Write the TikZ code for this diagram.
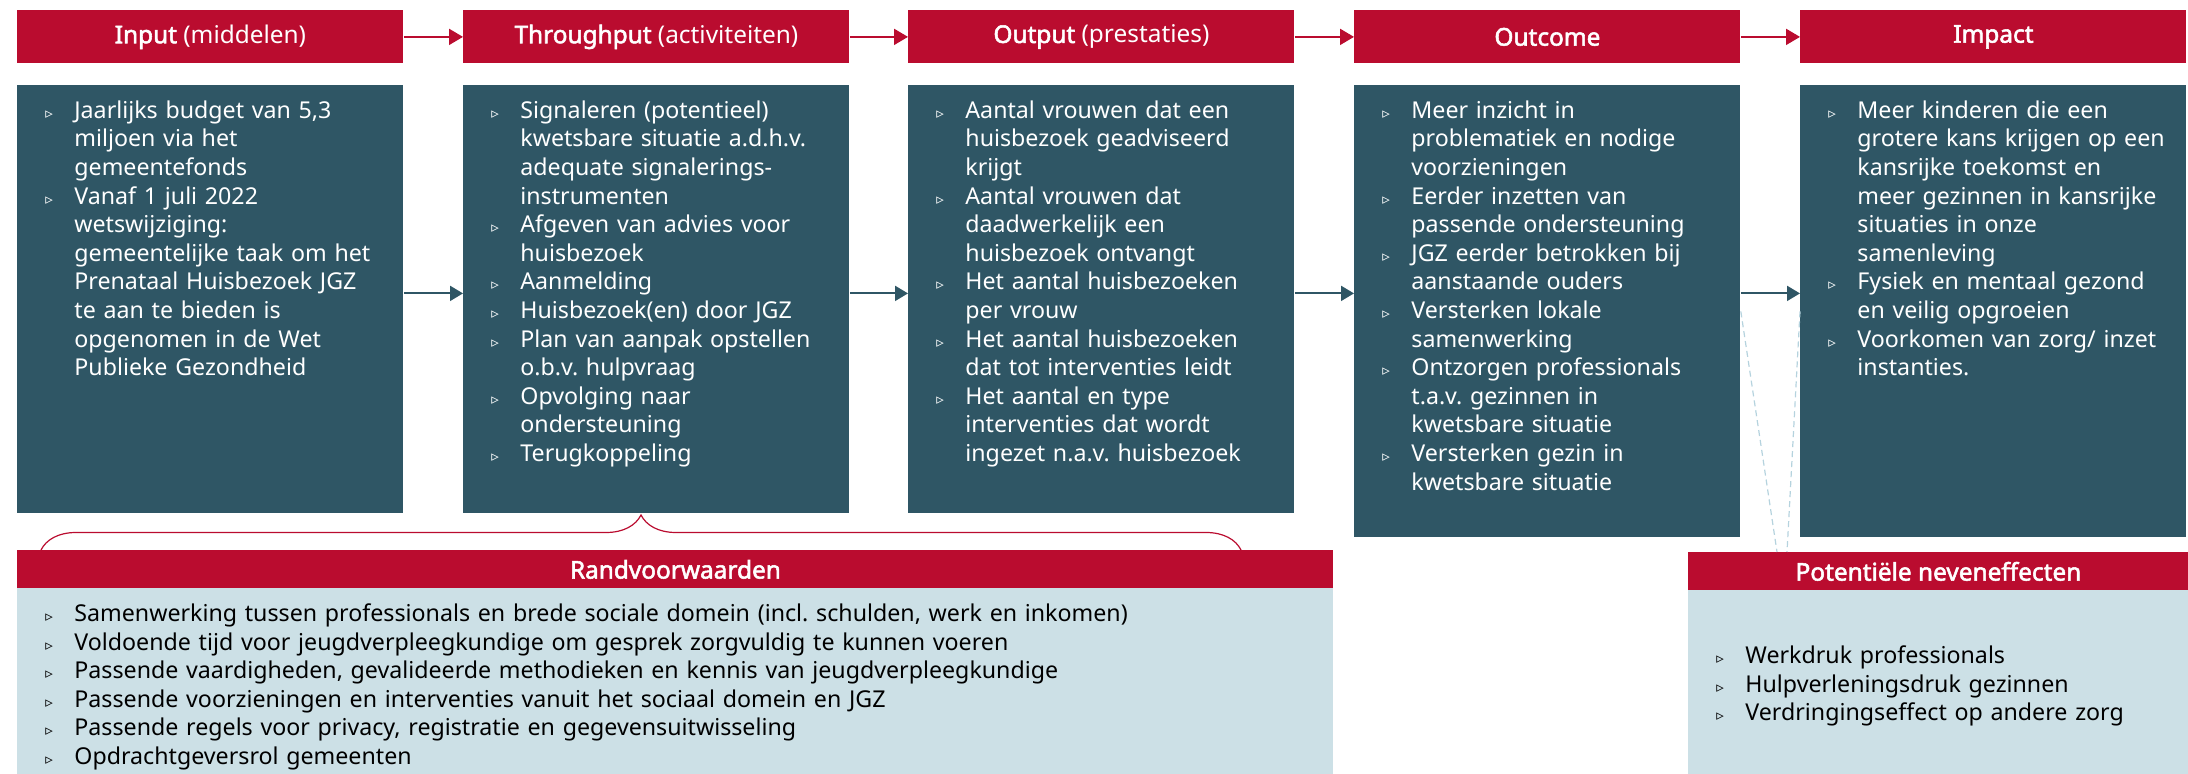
\documentclass[tikz,border=0pt]{standalone}
\usepackage{fontspec}
\setmainfont{Noto Sans}[AutoFakeBold=2.2]
\newfontfamily\symfont{DejaVu Sans}
\usetikzlibrary{arrows.meta,decorations.pathreplacing}
\frenchspacing

\definecolor{hred}{HTML}{BA0C2F}
\definecolor{dteal}{HTML}{2F5665}
\definecolor{lblue}{HTML}{CCE0E6}
\definecolor{dline}{HTML}{B5D3DE}

\newcommand{\tri}{{\symfont\fontsize{7.5}{7.5}\selectfont ▹}}
\newcommand{\itmfirst}{\noindent\hangindent=19.5pt\hangafter=1\hspace*{5pt}\makebox[14.5pt][l]{\tri}}
\newcommand{\itm}{\unskip\par\itmfirst}

\begin{document}
\begin{tikzpicture}[x=0.5pt,y=-0.5pt]

\tikzstyle{head}=[rectangle, fill=hred, anchor=north west, minimum width=193pt, minimum height=26.5pt, inner sep=0pt, text=white, font=\fontsize{12.2}{15}\selectfont]
\tikzstyle{body}=[rectangle, fill=dteal, anchor=north west, text width=175pt, inner xsep=9pt, inner ysep=7.5pt, text height=9pt, text depth=190pt, align=left, text=white, font=\fontsize{11.6}{14.3}\selectfont]
\tikzstyle{cond}=[rectangle, fill=lblue, anchor=north west, inner xsep=9pt, inner ysep=7.5pt, align=left, text=black, font=\fontsize{11.6}{14.3}\selectfont]
\tikzstyle{harrow}=[-{Triangle[length=7pt,width=8pt]}, hred, line width=1pt]
\tikzstyle{barrow}=[-{Triangle[length=6.5pt,width=7.5pt]}, dteal, line width=1pt]
\tikzstyle{guide}=[dline, line width=0.6pt, dash pattern=on 3pt off 2pt]
\tikzstyle{bracket}=[hred, line width=0.6pt, decorate, decoration={brace, amplitude=17.5pt}]

\useasboundingbox (0,0) rectangle (2188,774);

\node (A) [head] at (17,10)   {\textbf{Input} (middelen)};
\node (B) [head] at (463,10)  {\textbf{Throughput} (activiteiten)};
\node (C) [head] at (908,10)  {\textbf{Output} (prestaties)};
\node (D) [head] at (1354,10) {\textbf{Outcome}};
\node (E) [head] at (1800,10) {\textbf{Impact}};

\node (F) [body] at (17,85) {%
  \itmfirst Jaarlijks budget van 5,3\newline miljoen via het\newline gemeentefonds
  \itm Vanaf 1 juli 2022\newline wetswijziging:\newline gemeentelijke taak om het\newline Prenataal Huisbezoek JGZ\newline te aan te bieden is\newline opgenomen in de Wet\newline Publieke Gezondheid\par};
\node (G) [body] at (463,85) {%
  \itmfirst Signaleren (potentieel)\newline kwetsbare situatie a.d.h.v.\newline adequate signalerings-\newline instrumenten
  \itm Afgeven van advies voor\newline huisbezoek
  \itm Aanmelding
  \itm Huisbezoek(en) door JGZ
  \itm Plan van aanpak opstellen\newline o.b.v. hulpvraag
  \itm Opvolging naar\newline ondersteuning
  \itm Terugkoppeling\par};
\node (H) [body] at (908,85) {%
  \itmfirst Aantal vrouwen dat een\newline huisbezoek geadviseerd\newline krijgt
  \itm Aantal vrouwen dat\newline daadwerkelijk een\newline huisbezoek ontvangt
  \itm Het aantal huisbezoeken\newline per vrouw
  \itm Het aantal huisbezoeken\newline dat tot interventies leidt
  \itm Het aantal en type\newline interventies dat wordt\newline ingezet n.a.v. huisbezoek\par};
\node (I) [body, text depth=202pt] at (1354,85) {%
  \itmfirst Meer inzicht in\newline problematiek en nodige\newline voorzieningen
  \itm Eerder inzetten van\newline passende ondersteuning
  \itm JGZ eerder betrokken bij\newline aanstaande ouders
  \itm Versterken lokale\newline samenwerking
  \itm Ontzorgen professionals\newline t.a.v. gezinnen in\newline kwetsbare situatie
  \itm Versterken gezin in\newline kwetsbare situatie\par};
\node (J) [body, text depth=202pt] at (1800,85) {%
  \itmfirst Meer kinderen die een\newline grotere kans krijgen op een\newline kansrijke toekomst en\newline meer gezinnen in kansrijke\newline situaties in onze\newline samenleving
  \itm Fysiek en mentaal gezond\newline en veilig opgroeien
  \itm Voorkomen van zorg/ inzet\newline instanties.\par};

\node (K) [head, minimum width=658pt, minimum height=19pt] at (17,550) {\textbf{Randvoorwaarden}};
\node (L) [cond, text width=640pt, text height=9pt, text depth=69.5pt] at (17,588) {%
  \itmfirst Samenwerking tussen professionals en brede sociale domein (incl. schulden, werk en inkomen)
  \itm Voldoende tijd voor jeugdverpleegkundige om gesprek zorgvuldig te kunnen voeren
  \itm Passende vaardigheden, gevalideerde methodieken en kennis van jeugdverpleegkundige
  \itm Passende voorzieningen en interventies vanuit het sociaal domein en JGZ
  \itm Passende regels voor privacy, registratie en gegevensuitwisseling
  \itm Opdrachtgeversrol gemeenten\par};

\node (M) [head, minimum width=250pt, minimum height=19pt] at (1688,552) {\textbf{Potentiële neveneffecten}};
\node (N) [cond, text width=232pt, text height=29pt, text depth=48.5pt] at (1688,590) {%
  \itmfirst Werkdruk professionals
  \itm Hulpverleningsdruk gezinnen
  \itm Verdringingseffect op andere zorg\par};

\draw [harrow] (A) -- (B);
\draw [harrow] (B) -- (C);
\draw [harrow] (C) -- (D);
\draw [harrow] (D) -- (E);

\draw [barrow] ([yshift=3pt]F.east) -- ([yshift=3pt]G.west);
\draw [barrow] ([yshift=3pt]G.east) -- ([yshift=3pt]H.west);
\draw [barrow] ([yshift=3pt]H.east) -- ([yshift=9pt]I.west);
\draw [barrow] ([yshift=9pt]I.east) -- ([yshift=9pt]J.west);

\coordinate (P1) at (1777,552);
\coordinate (P2) at (1787,552);
\draw [guide] (I.east) -- (P1);
\draw [guide] (J.west) -- (P2);

\coordinate (Q1) at (41,550);
\coordinate (Q2) at (1241,550);
\draw [bracket] (Q1) -- (Q2);

\end{tikzpicture}
\end{document}
